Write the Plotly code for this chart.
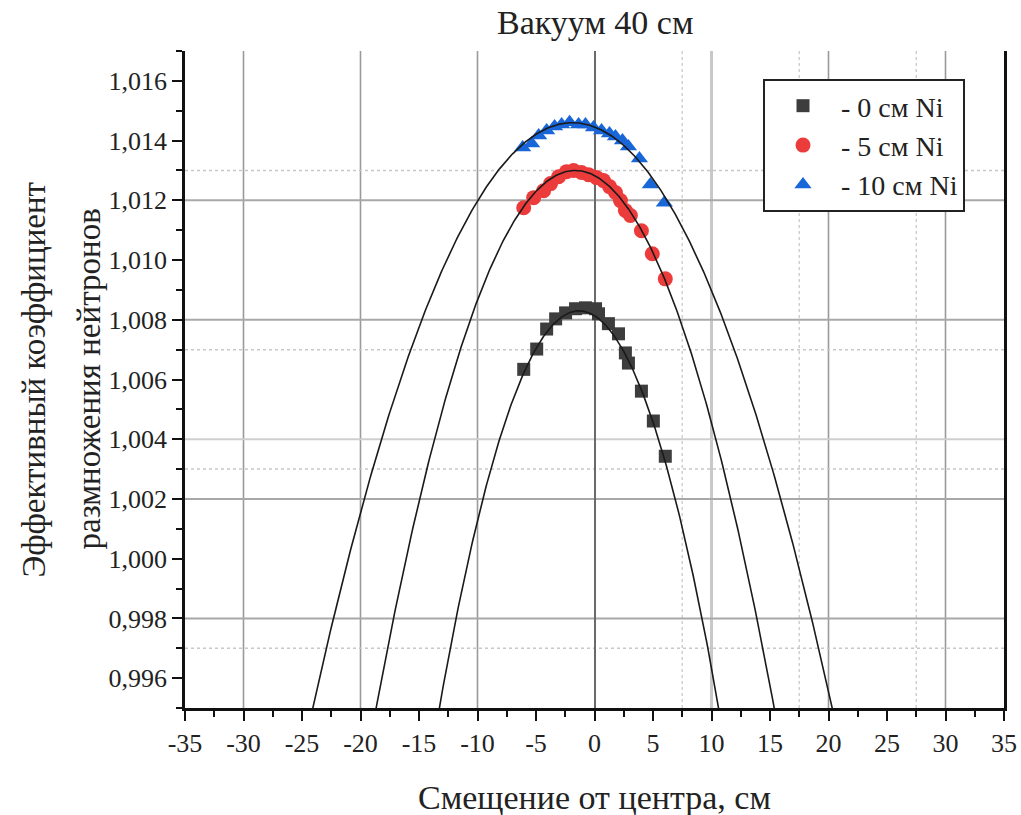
import numpy as np
import plotly.graph_objects as go

# ---- data ----
x_0cm = [-6.05, -4.94, -4.09, -3.32, -2.47, -1.62, -0.77, 0.09, 0.34, 1.19, 2.05, 2.64, 2.90, 4.01, 5.03, 6.05]
y_0cm = [1.00634, 1.00702, 1.00769, 1.00803, 1.00823, 1.00837, 1.00840, 1.00837, 1.00820, 1.00787,
         1.00753, 1.00689, 1.00655, 1.00561, 1.00461, 1.00343]

x_5cm = [-6.05, -5.20, -4.35, -3.75, -3.07, -2.39, -1.79, -1.11, -0.51, 0.17, 0.77, 1.28, 1.79, 2.22,
         2.64, 3.07, 4.01, 4.94, 6.05]
y_5cm = [1.01175, 1.01209, 1.01232, 1.01256, 1.01279, 1.01296, 1.01300, 1.01293, 1.01286, 1.01276,
         1.01266, 1.01246, 1.01226, 1.01199, 1.01166, 1.01149, 1.01098, 1.01021, 1.00937]

x_10cm = [-6.14, -5.37, -4.77, -4.09, -3.41, -2.81, -2.13, -1.36, -0.77, -0.09, 0.60, 1.28, 1.79, 2.39,
          2.90, 3.84, 4.77, 5.97]
y_10cm = [1.01377, 1.01390, 1.01417, 1.01434, 1.01447, 1.01454, 1.01461, 1.01454, 1.01454, 1.01444,
          1.01434, 1.01424, 1.01414, 1.01400, 1.01380, 1.01340, 1.01253, 1.01192]

# parabolic fit parameters: y = top - curv*(x - centre)^2
fit_centre = [-1.32, -1.65, -1.88]
fit_top = [1.00830, 1.01300, 1.01460]
fit_curv = [9.32e-5, 6.22e-5, 3.976e-5]

series_names = ["- 0 см Ni", "- 5 см Ni", "- 10 см Ni"]

x_ticks = list(range(-35, 36, 5))
y_ticks = [0.996, 0.998, 1.000, 1.002, 1.004, 1.006, 1.008, 1.010, 1.012, 1.014, 1.016]
y_ticktext = [f"{v:.3f}".replace(".", ",") for v in y_ticks]

grid_x_solid = [-30, -20, -10, 20, 30]
grid_x_light = [10]
grid_x_dot = [7.5, 17.5, 27.5]
grid_y_solid = [1.012, 1.008, 1.002, 0.998]
grid_y_light = [1.004]
grid_y_dot = [1.013, 1.007, 1.003, 0.997]

FONT = "Liberation Serif"
colors = ["#3d3d3d", "#ec3b3b", "#1866d8"]
symbols = ["square", "circle", "triangle-up"]
sizes = [13, 15, 15]

fig = go.Figure()
for xs, ys, name, c, s, sz in zip([x_0cm, x_5cm, x_10cm], [y_0cm, y_5cm, y_10cm],
                                   series_names, colors, symbols, sizes):
    fig.add_trace(go.Scatter(x=xs, y=ys, mode="markers", name=name,
                             marker=dict(symbol=s, size=sz, color=c, line=dict(width=0))))

xf = np.linspace(-35, 35, 701)
for c0, top, k in zip(fit_centre, fit_top, fit_curv):
    fig.add_trace(go.Scatter(x=xf, y=top - k * (xf - c0) ** 2, mode="lines", showlegend=False,
                             line=dict(color="#1a1a1a", width=1.6), hoverinfo="skip"))

shapes = []
for v in grid_x_solid:
    shapes.append(dict(type="line", xref="x", yref="paper", x0=v, x1=v, y0=0, y1=1, layer="below",
                       line=dict(color="#9a9a9a", width=1.6)))
for v in grid_x_light:
    shapes.append(dict(type="line", xref="x", yref="paper", x0=v, x1=v, y0=0, y1=1, layer="below",
                       line=dict(color="#c8c8c8", width=3)))
for v in grid_x_dot:
    shapes.append(dict(type="line", xref="x", yref="paper", x0=v, x1=v, y0=0, y1=1, layer="below",
                       line=dict(color="#d0d0d0", width=1.5, dash="dot")))
for v in grid_y_solid:
    shapes.append(dict(type="line", xref="paper", yref="y", x0=0, x1=1, y0=v, y1=v, layer="below",
                       line=dict(color="#a8a8a8", width=2)))
for v in grid_y_light:
    shapes.append(dict(type="line", xref="paper", yref="y", x0=0, x1=1, y0=v, y1=v, layer="below",
                       line=dict(color="#cfcfcf", width=2)))
for v in grid_y_dot:
    shapes.append(dict(type="line", xref="paper", yref="y", x0=0, x1=1, y0=v, y1=v, layer="below",
                       line=dict(color="#c8c8c8", width=1.5, dash="dot")))

fig.update_layout(
    width=1021, height=815,
    margin=dict(l=185, r=17, t=51, b=107, autoexpand=False),
    paper_bgcolor="white", plot_bgcolor="white",
    font=dict(family=FONT, color="#222222"),
    title=dict(text="Вакуум 40 см", x=0.583, xanchor="center", y=1 - 22 / 815, yanchor="middle",
               yref="container", font=dict(family=FONT, size=34, color="#222222")),
    shapes=shapes,
    showlegend=True,
    legend=dict(x=(763 - 185) / 819, y=1 - (79 - 51) / 657, xanchor="left", yanchor="top",
                bgcolor="white", bordercolor="#222222", borderwidth=2,
                font=dict(family=FONT, size=28, color="#222222"), itemwidth=66,
                tracegroupgap=0),
    annotations=[
        dict(text="Смещение от центра, см", xref="paper", yref="paper", x=0.5, y=-89 / 657,
             xanchor="center", yanchor="middle", showarrow=False,
             font=dict(family=FONT, size=34, color="#222222")),
        dict(text="Эффективный коэффициент", xref="paper", yref="paper", x=(33 - 185) / 819, y=0.5,
             xanchor="center", yanchor="middle", showarrow=False, textangle=-90,
             font=dict(family=FONT, size=33, color="#222222")),
        dict(text="размножения нейтронов", xref="paper", yref="paper", x=(88 - 185) / 819, y=0.5,
             xanchor="center", yanchor="middle", showarrow=False, textangle=-90,
             font=dict(family=FONT, size=33, color="#222222")),
    ],
)

fig.update_xaxes(range=[-35, 35], tickvals=x_ticks, ticktext=[str(v) for v in x_ticks],
                 ticks="outside", ticklen=10, tickwidth=2, tickcolor="#111",
                 minor=dict(dtick=2.5, tick0=-35, ticks="outside", ticklen=6, tickwidth=2, tickcolor="#111",
                            showgrid=False),
                 showline=True, linecolor="#111", linewidth=2.5, mirror=False,
                 showgrid=False, zeroline=True, zerolinecolor="#6a6a6a", zerolinewidth=2,
                 tickfont=dict(family=FONT, size=26, color="#222222"))
fig.update_yaxes(range=[0.995, 1.017], tickvals=y_ticks, ticktext=y_ticktext,
                 ticks="outside", ticklen=10, tickwidth=2, tickcolor="#111",
                 minor=dict(dtick=0.001, tick0=0.995, ticks="outside", ticklen=6, tickwidth=2, tickcolor="#111",
                            showgrid=False),
                 showline=True, linecolor="#111", linewidth=2.5, mirror=True,
                 showgrid=False, zeroline=False,
                 tickfont=dict(family=FONT, size=26, color="#222222"))

fig.write_html("out.html")
